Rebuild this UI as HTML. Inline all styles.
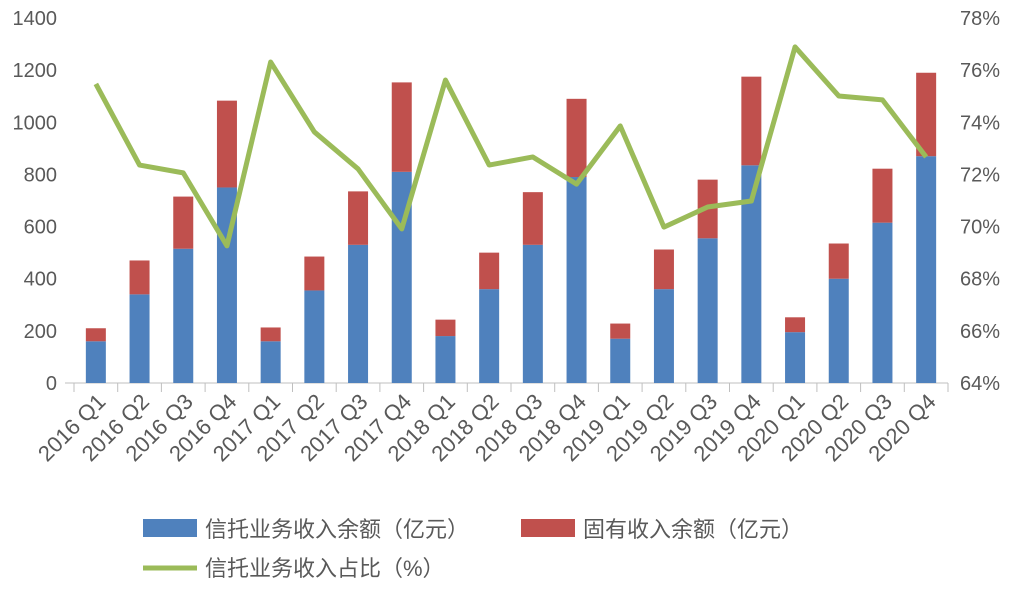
<!DOCTYPE html>
<html><head><meta charset="utf-8"><style>
body{margin:0;background:#fff;}
svg text{font-family:"Liberation Sans","Noto Sans CJK SC",sans-serif;fill:#595959;}
</style></head><body>
<svg id="chart" width="1016" height="584" xmlns="http://www.w3.org/2000/svg"></svg>
<script>
const categories=["2016 Q1","2016 Q2","2016 Q3","2016 Q4","2017 Q1","2017 Q2","2017 Q3","2017 Q4","2018 Q1","2018 Q2","2018 Q3","2018 Q4","2019 Q1","2019 Q2","2019 Q3","2019 Q4","2020 Q1","2020 Q2","2020 Q3","2020 Q4"];
const trustIncome=[160,340,515,750,160,355,530,810,180,360,530,790,170,360,555,835,195,400,615,870];
const ownIncome=[50,130,200,333,53,130,205,343,63,140,202,300,58,152,225,340,57,135,207,320];
const trustShare=[75.47,72.36,72.06,69.26,76.31,73.63,72.21,69.91,75.62,72.36,72.67,71.63,73.86,69.98,70.75,70.98,76.89,75.01,74.86,72.67];
const leftTicks=[0,200,400,600,800,1000,1200,1400];
const rightTicks=[64,66,68,70,72,74,76,78];

const svg=document.getElementById('chart');
const NS="http://www.w3.org/2000/svg";
const X0=74,X1=948,Y0=383,Y1=18;
const step=(X1-X0)/categories.length;
const xc=i=>X0+step*(i+0.5);
const yL=v=>Y0-(v/1400)*(Y0-Y1);
const yR=v=>Y0-((v-64)/14)*(Y0-Y1);
function mk(tag,attrs,parent){const e=document.createElementNS(NS,tag);for(const k in attrs)e.setAttribute(k,attrs[k]);(parent||svg).appendChild(e);return e;}

leftTicks.forEach(t=>{
  const e=mk('text',{x:57,y:yL(t)+7,'text-anchor':'end','font-size':20});
  
  
  e.textContent=t;
});
rightTicks.forEach(t=>{
  const e=mk('text',{x:960,y:yR(t)+7,'font-size':20});
  
  
  e.textContent=t+'%';
});
const ax=mk('line',{x1:65,x2:X1,y1:Y0,y2:Y0,stroke:'#bfbfbf','stroke-width':1});


for(let i=0;i<=categories.length;i++){
  const tk=mk('line',{x1:X0+step*i,x2:X0+step*i,y1:Y0,y2:Y0+9,stroke:'#bfbfbf','stroke-width':1});
  
  
}

const bw=20;
categories.forEach((c,i)=>{
  const b=mk('rect',{x:xc(i)-bw/2,y:yL(trustIncome[i]),width:bw,height:Y0-yL(trustIncome[i]),fill:'#4f81bd'});
  
  
  const tot=trustIncome[i]+ownIncome[i];
  const r=mk('rect',{x:xc(i)-bw/2,y:yL(tot),width:bw,height:yL(trustIncome[i])-yL(tot),fill:'#c0504d'});
  
  
  const tx=xc(i)+11,ty=403;
  const l=mk('text',{x:tx,y:ty,'text-anchor':'end','font-size':22,transform:`rotate(-45 ${tx} ${ty})`});
  
  
  l.textContent=c;
});
const pts=trustShare.map((v,i)=>xc(i)+','+yR(v)).join(' ');
const pl=mk('polyline',{points:pts,fill:'none',stroke:'#9bbb59','stroke-width':5,'stroke-linejoin':'round'});



const g=mk('g',{});


const lb=mk('rect',{x:143,y:519,width:54,height:18,fill:'#4f81bd'},g);


const lt1=mk('text',{x:205,y:537,'font-size':22},g);


lt1.textContent='信托业务收入余额（亿元）';
const lr=mk('rect',{x:521,y:519,width:54,height:18,fill:'#c0504d'},g);


const lt2=mk('text',{x:583,y:537,'font-size':22},g);


lt2.textContent='固有收入余额（亿元）';
const ll=mk('line',{x1:143,x2:197,y1:568,y2:568,stroke:'#9bbb59','stroke-width':5},g);


const lt3=mk('text',{x:205,y:576,'font-size':22},g);


lt3.textContent='信托业务收入占比（%）';
</script>
</body></html>
